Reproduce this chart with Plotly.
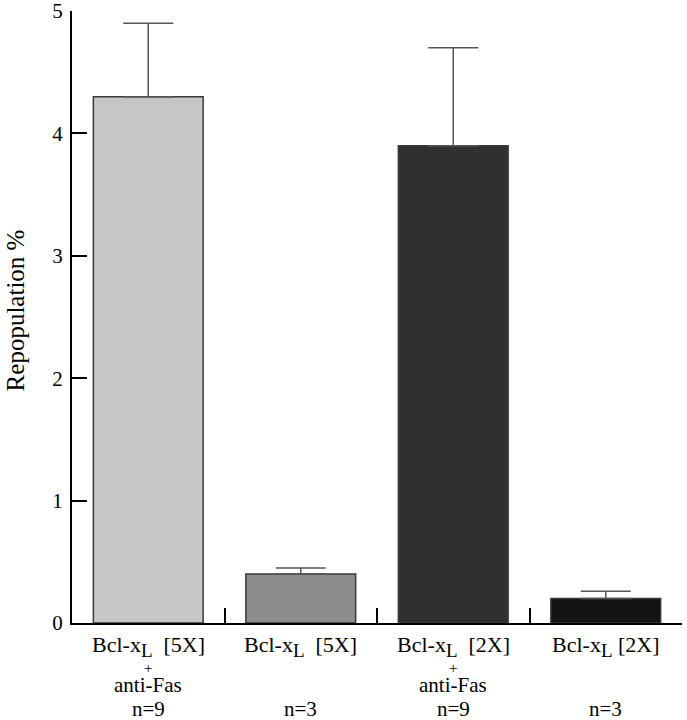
import plotly.graph_objects as go

FONT = "Liberation Serif, Times New Roman, serif"
NB = "\u00a0"
SUB_L = "<sub><span style='font-size:19px'>L</span></sub>"

# data
groups = ["xL5_fas", "xL5", "xL2_fas", "xL2"]
repopulation = [4.3, 0.4, 3.9, 0.2]
sem = [0.6, 0.05, 0.8, 0.06]
line1 = [
    f"Bcl-x{SUB_L}{NB}{NB}[5X]",
    f"Bcl-x{SUB_L}{NB}{NB}[5X]",
    f"Bcl-x{SUB_L}{NB}{NB}[2X]",
    f"Bcl-x{SUB_L}{NB}[2X]",
]
anti_fas = [True, False, True, False]
n_counts = [9, 3, 9, 3]
bar_colors = ["#c6c6c6", "#8c8c8c", "#303030", "#141414"]
y_ticks = [0, 1, 2, 3, 4, 5]


def label_font(size):
    return dict(family=FONT, size=size, color="black")


fig = go.Figure(
    go.Bar(
        x=groups,
        y=repopulation,
        width=0.72,
        marker=dict(color=bar_colors, line=dict(color="#3a3a3a", width=1.5)),
        error_y=dict(
            type="data",
            symmetric=False,
            array=sem,
            arrayminus=[0] * len(sem),
            color="#555555",
            thickness=1.5,
            width=25,
        ),
    )
)

for g, txt, fas, n in zip(groups, line1, anti_fas, n_counts):
    fig.add_annotation(x=g, y=0, yref="paper", yanchor="middle", yshift=-23, text=txt,
                       showarrow=False, font=label_font(22))
    if fas:
        fig.add_annotation(x=g, y=0, yref="paper", yanchor="middle", yshift=-45, text="+",
                           showarrow=False, font=label_font(15))
        fig.add_annotation(x=g, y=0, yref="paper", yanchor="middle", yshift=-62, text="anti-Fas",
                           showarrow=False, font=label_font(21))
    fig.add_annotation(x=g, y=0, yref="paper", yanchor="middle", yshift=-86, text=f"n={n}",
                       showarrow=False, font=label_font(21))

fig.add_annotation(x=0, xref="paper", xshift=-72, y=0.51, yref="paper", text="Repopulation %",
                   textangle=-90, showarrow=False, font=label_font(25))

fig.update_xaxes(
    range=[-0.5, 3.5],
    showline=True, linecolor="black", linewidth=2,
    ticks="inside", tickson="boundaries", ticklen=15, tickwidth=1.5, tickcolor="black",
    showticklabels=False, showgrid=False, zeroline=False, automargin=False,
)
fig.update_yaxes(
    range=[0, 5.0],
    tickvals=y_ticks,
    showline=True, linecolor="black", linewidth=2,
    ticks="inside", ticklen=15, tickwidth=2, tickcolor="black",
    ticklabelstandoff=3, ticklabeloverflow="allow", automargin=False,
    tickfont=label_font(21), showgrid=False, zeroline=False,
)
fig.update_layout(
    width=687,
    height=720,
    margin=dict(l=72, r=5, t=11, b=97),
    paper_bgcolor="white",
    plot_bgcolor="white",
    font=label_font(20),
    showlegend=False,
)
fig.write_html("out.html", config={"displayModeBar": False},
               post_script="document.body.style.margin = '0';")
